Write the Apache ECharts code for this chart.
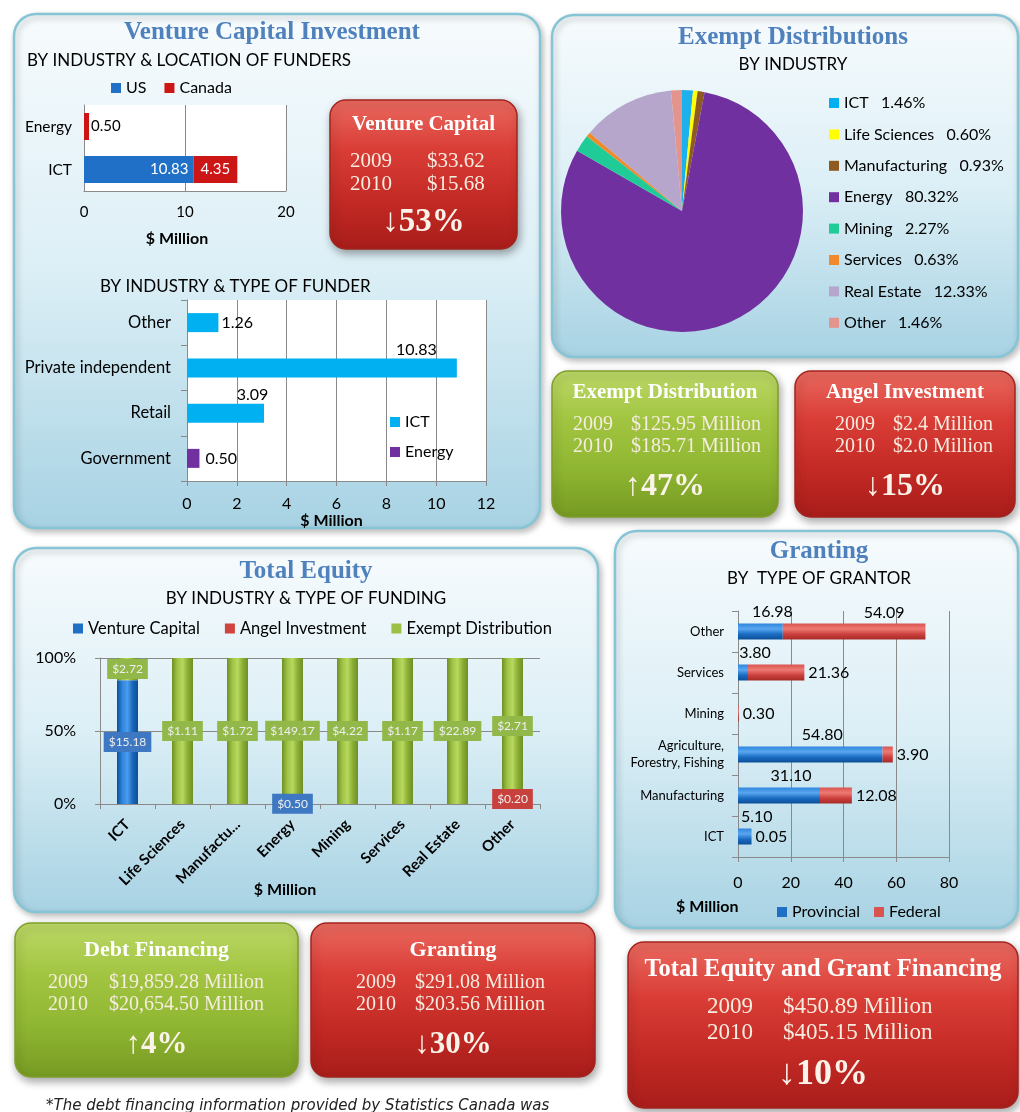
<!DOCTYPE html>
<html>
<head>
<meta charset="utf-8">
<title>Equity and Grant Financing</title>
<script src="https://cdn.jsdelivr.net/npm/echarts@6/dist/echarts.min.js"></script>
<style>
  html, body { margin: 0; padding: 0; background: #fff; }
  #main { width: 1020px; height: 1112px; }
</style>
</head>
<body>
<div id="main"></div>
<script>
var SANS = 'Lato, "Noto Sans", sans-serif';
var SERIF = '"Liberation Serif", "DejaVu Serif", serif';

// Venture capital by industry & location of funders ($ Million)
var vcLocCategories = ['ICT', 'Energy'];
var vcUS = [10.83, 0];
var vcCanada = [4.35, 0.50];

// Venture capital by industry & type of funder ($ Million)
var funderCategories = ['Government', 'Retail', 'Private independent', 'Other'];
var funderICT = [0, 3.09, 10.83, 1.26];
var funderEnergy = [0.50, 0, 0, 0];

// Exempt distributions by industry (%)
var pieNames = ['ICT', 'Life Sciences', 'Manufacturing', 'Energy', 'Mining', 'Services', 'Real Estate', 'Other'];
var pieShares = [1.46, 0.60, 0.93, 80.32, 2.27, 0.63, 12.33, 1.46];
var pieColors = ['#1cb0ec', '#ffff00', '#8f5a22', '#7030a0', '#1fcc98', '#f08a2c', '#b6a6cc', '#e3948c'];

// Total equity by industry & type of funding ($ Million)
var equityCategories = ['ICT', 'Life Sciences', 'Manufacturing', 'Energy', 'Mining', 'Services', 'Real Estate', 'Other'];
var equityVC = [15.18, 0, 0, 0.50, 0, 0, 0, 0];
var equityAngel = [0, 0, 0, 0, 0, 0, 0, 0.20];
var equityExempt = [2.72, 1.11, 1.72, 149.17, 4.22, 1.17, 22.89, 2.71];

// Granting by type of grantor ($ Million)
var grantCategories = ['ICT', 'Manufacturing', 'Agriculture,\nForestry, Fishing', 'Mining', 'Services', 'Other'];
var grantProvincial = [5.10, 31.10, 54.80, 0, 3.80, 16.98];
var grantFederal = [0.05, 12.08, 3.90, 0.30, 21.36, 54.09];

var myChart = echarts.init(document.getElementById('main'));

function grad(dir, stops) {
    // dir 'h' = left->right, 'v' = top->bottom
    var s = stops.map(function (c, i) { return { offset: i / (stops.length - 1), color: c }; });
    return dir === 'h' ? new echarts.graphic.LinearGradient(0, 0, 1, 0, s)
                       : new echarts.graphic.LinearGradient(0, 0, 0, 1, s);
}

function panel(x, y, w, h) {
    return {
        type: 'rect', z: -10, silent: true,
        shape: { x: x, y: y, width: w, height: h, r: 22 },
        style: {
            fill: grad('v', ['#f7fbfd', '#dceff6', '#a7d2e3']),
            stroke: '#86c5d5', lineWidth: 2.5,
            shadowBlur: 6, shadowColor: 'rgba(0,0,0,0.25)', shadowOffsetX: 2, shadowOffsetY: 3
        }
    };
}

function txt(t, x, y, font, color, align) {
    return {
        type: 'text', x: x, y: y, silent: true, z: 5,
        style: { text: t, font: font, fill: color || '#000', align: align || 'center', verticalAlign: 'middle' }
    };
}

// coloured summary box
function box(b) {
    var red = b.kind === 'red';
    var els = [{
        type: 'rect', z: 1, silent: true,
        shape: { x: b.x, y: b.y, width: b.w, height: b.h, r: 16 },
        style: {
            fill: red ? grad('v', ['#ea6a60', '#d93d36', '#c42a25', '#a81d1a'])
                      : grad('v', ['#bcd867', '#a2c541', '#8fb632', '#769a22']),
            stroke: red ? '#a3241f' : '#7f9f2a', lineWidth: 1.5,
            shadowBlur: 8, shadowColor: 'rgba(0,0,0,0.35)', shadowOffsetX: 2, shadowOffsetY: 4
        }
    }];
    var cx = b.x + b.w / 2;
    els.push(txt(b.title, cx, b.ty, 'bold ' + b.ts + 'px ' + SERIF, '#ffffff'));
    b.years.forEach(function (yr, i) {
        els.push(txt(yr, b.yx, b.ly[i], b.ls + 'px ' + SERIF, '#f6ece0', 'left'));
        els.push(txt(b.amounts[i], b.ax, b.ly[i], b.ls + 'px ' + SERIF, '#f6ece0', 'left'));
    });
    els.push(txt(b.change, cx, b.cy, 'bold ' + b.cs + 'px ' + SERIF, '#fbf3ea'));
    return els;
}

var graphics = [
    panel(14, 14, 526, 514),
    panel(552, 15, 466, 342),
    panel(14, 548, 584, 364),
    panel(615, 531, 403, 397),

    txt('Venture Capital Investment', 272, 33, 'bold 25px ' + SERIF, '#4f81bd'),
    txt('BY INDUSTRY & LOCATION OF FUNDERS', 27, 61, '17px ' + SANS, '#000', 'left'),
    txt('BY INDUSTRY & TYPE OF FUNDER', 100, 287, '17px ' + SANS, '#000', 'left'),
    txt('Exempt Distributions', 793, 38, 'bold 25px ' + SERIF, '#4f81bd'),
    txt('BY INDUSTRY', 793, 65, '17px ' + SANS, '#000'),
    txt('Total Equity', 306, 572, 'bold 25px ' + SERIF, '#4f81bd'),
    txt('BY INDUSTRY & TYPE OF FUNDING', 306, 599, '17px ' + SANS, '#000'),
    txt('Granting', 819, 552, 'bold 25px ' + SERIF, '#4f81bd'),
    txt('BY  TYPE OF GRANTOR', 819, 579, '17px ' + SANS, '#000'),
    txt('$ Million', 285, 890, 'bold 16px ' + SANS, '#000'),
    txt('$ Million', 676, 907, 'bold 16px ' + SANS, '#000', 'left'),
    txt('*The debt financing information provided by Statistics Canada was', 46, 1106, 'italic 15px "DejaVu Sans", sans-serif', '#222', 'left')
];

graphics = graphics
    .concat(box({ kind: 'red', x: 330, y: 100, w: 187, h: 149, title: 'Venture Capital', ty: 125, ts: 21,
        years: ['2009', '2010'], amounts: ['$33.62', '$15.68'], yx: 350, ax: 427, ly: [161, 184], ls: 21,
        change: '\u219353%', cy: 222, cs: 33 }))
    .concat(box({ kind: 'green', x: 552, y: 371, w: 226, h: 146, title: 'Exempt Distribution', ty: 393, ts: 21,
        years: ['2009', '2010'], amounts: ['$125.95 Million', '$185.71 Million'], yx: 573, ax: 631, ly: [425, 447], ls: 20,
        change: '\u219147%', cy: 487, cs: 32 }))
    .concat(box({ kind: 'red', x: 795, y: 371, w: 220, h: 146, title: 'Angel Investment', ty: 393, ts: 21,
        years: ['2009', '2010'], amounts: ['$2.4 Million', '$2.0 Million'], yx: 835, ax: 893, ly: [425, 447], ls: 20,
        change: '\u219315%', cy: 487, cs: 32 }))
    .concat(box({ kind: 'green', x: 15, y: 923, w: 283, h: 154, title: 'Debt Financing', ty: 950, ts: 22,
        years: ['2009', '2010'], amounts: ['$19,859.28 Million', '$20,654.50 Million'], yx: 48, ax: 109, ly: [983, 1005], ls: 20,
        change: '\u21914%', cy: 1045, cs: 31 }))
    .concat(box({ kind: 'red', x: 311, y: 923, w: 284, h: 154, title: 'Granting', ty: 950, ts: 22,
        years: ['2009', '2010'], amounts: ['$291.08 Million', '$203.56 Million'], yx: 356, ax: 415, ly: [983, 1005], ls: 20,
        change: '\u219330%', cy: 1045, cs: 31 }))
    .concat(box({ kind: 'red', x: 628, y: 942, w: 390, h: 166, title: 'Total Equity and Grant Financing', ty: 970, ts: 24.5,
        years: ['2009', '2010'], amounts: ['$450.89 Million', '$405.15 Million'], yx: 707, ax: 783, ly: [1007, 1033], ls: 23,
        change: '\u219310%', cy: 1075, cs: 36 }));

var equityTotals = equityCategories.map(function (c, i) {
    return equityVC[i] + equityAngel[i] + equityExempt[i];
});

function shareData(arr) {
    return arr.map(function (v, i) { return v ? v / equityTotals[i] : '-'; });
}

function equityLabel(arr, bg) {
    return {
        show: true, position: 'inside', fontFamily: SANS, fontSize: 12, color: '#eeeeee',
        backgroundColor: bg, padding: [4, 5],
        formatter: function (p) { return '$' + arr[p.dataIndex].toFixed(2); }
    };
}

var axisCol = '#8a8a8a';
var baseLabel = { fontFamily: SANS, color: '#000' };
var legendText = { fontSize: 16, color: '#000', fontFamily: SANS };

var option = {
    animation: false,
    textStyle: { fontFamily: SANS },
    graphic: { elements: graphics },
    legend: [
        {
            data: ['US', 'Canada'], left: 106, top: 75, itemWidth: 10, itemHeight: 10, itemGap: 18,
            icon: 'rect', textStyle: legendText
        },
        {
            data: ['ICT', 'Energy'], orient: 'vertical', left: 385, top: 409, itemWidth: 10, itemHeight: 10, itemGap: 14,
            icon: 'rect', textStyle: legendText
        },
        {
            data: pieNames, orient: 'vertical', left: 824, top: 90, itemWidth: 10, itemHeight: 10, itemGap: 15.4,
            icon: 'rect', textStyle: legendText,
            formatter: function (name) {
                return name + '   ' + pieShares[pieNames.indexOf(name)].toFixed(2) + '%';
            }
        },
        {
            data: [
                { name: 'Venture Capital', itemStyle: { color: '#1f6fc5' } },
                { name: 'Angel Investment', itemStyle: { color: '#d0433e' } },
                { name: 'Exempt Distribution', itemStyle: { color: '#9bc044' } }
            ],
            left: 68, top: 615, itemWidth: 10, itemHeight: 10, itemGap: 25,
            icon: 'rect', textStyle: { fontSize: 16.5, color: '#000', fontFamily: SANS }
        },
        {
            data: [
                { name: 'Provincial', itemStyle: { color: '#1f6fc5' } },
                { name: 'Federal', itemStyle: { color: '#d9534f' } }
            ],
            left: 772, top: 899, itemWidth: 10, itemHeight: 10, itemGap: 14,
            icon: 'rect', textStyle: legendText
        }
    ],
    grid: [
        { left: 84, top: 105, width: 202, height: 86, show: true, backgroundColor: '#fff', borderWidth: 0 },
        { left: 187, top: 300, width: 299, height: 181, show: true, backgroundColor: '#fff', borderWidth: 0 },
        { left: 100, top: 658, width: 440, height: 146 },
        { left: 738, top: 611, width: 211, height: 246 }
    ],
    xAxis: [
        {
            gridIndex: 0, type: 'value', min: 0, max: 20, interval: 10,
            axisLine: { show: true, lineStyle: { color: axisCol } }, axisTick: { show: false },
            splitLine: { show: true, lineStyle: { color: axisCol } },
            axisLabel: Object.assign({ fontSize: 15, margin: 14 }, baseLabel),
            name: '$ Million', nameLocation: 'middle', nameGap: 40,
            nameTextStyle: { fontWeight: 'bold', fontSize: 16, color: '#000', padding: [0, 16, 0, 0] }
        },
        {
            gridIndex: 1, type: 'value', min: 0, max: 12, interval: 2,
            axisLine: { show: true, lineStyle: { color: axisCol } }, axisTick: { show: true, lineStyle: { color: axisCol } },
            splitLine: { show: true, lineStyle: { color: axisCol } },
            axisLabel: Object.assign({ fontSize: 16, margin: 15 }, baseLabel),
            name: '$ Million', nameLocation: 'middle', nameGap: 32,
            nameTextStyle: { fontWeight: 'bold', fontSize: 16, color: '#000', padding: [0, 10, 0, 0] }
        },
        {
            gridIndex: 2, type: 'category', data: equityCategories,
            axisLine: { show: true, lineStyle: { color: axisCol } },
            axisTick: { show: true, lineStyle: { color: axisCol } },
            axisLabel: Object.assign({
                fontSize: 15, fontWeight: 'bold', rotate: 45, margin: 18, interval: 0,
                formatter: function (v) { return v === 'Manufacturing' ? 'Manufactu...' : v; }
            }, baseLabel)
        },
        {
            gridIndex: 3, type: 'value', min: 0, max: 80, interval: 20,
            axisLine: { show: true, lineStyle: { color: axisCol } }, axisTick: { show: true, lineStyle: { color: axisCol } },
            splitLine: { show: true, lineStyle: { color: axisCol } },
            axisLabel: Object.assign({ fontSize: 16, margin: 18 }, baseLabel)
        }
    ],
    yAxis: [
        {
            gridIndex: 0, type: 'category', data: vcLocCategories,
            axisLine: { show: true, lineStyle: { color: axisCol } }, axisTick: { show: false },
            axisLabel: Object.assign({ fontSize: 15.5, margin: 12 }, baseLabel)
        },
        {
            gridIndex: 1, type: 'category', data: funderCategories,
            axisLine: { show: true, lineStyle: { color: axisCol } },
            axisTick: { show: true, length: 6, lineStyle: { color: axisCol } },
            axisLabel: Object.assign({ fontSize: 16.5, margin: 16 }, baseLabel)
        },
        {
            gridIndex: 2, type: 'value', min: 0, max: 1, interval: 0.5,
            axisLine: { show: true, lineStyle: { color: axisCol } }, axisTick: { show: true, lineStyle: { color: axisCol } },
            splitLine: { show: true, lineStyle: { color: axisCol } },
            axisLabel: Object.assign({ fontSize: 16, margin: 24, formatter: function (v) { return Math.round(v * 100) + '%'; } }, baseLabel)
        },
        {
            gridIndex: 3, type: 'category', data: grantCategories,
            axisLine: { show: true, lineStyle: { color: axisCol } },
            axisTick: { show: true, length: 6, lineStyle: { color: axisCol } },
            axisLabel: Object.assign({ fontSize: 13, lineHeight: 17, margin: 14 }, baseLabel)
        }
    ],
    series: [
        // chart 1: location of funders
        {
            name: 'US', type: 'bar', xAxisIndex: 0, yAxisIndex: 0, stack: 'loc', barWidth: 27,
            itemStyle: { color: '#1f70c6' },
            label: { show: true, position: 'insideRight', color: '#fff', fontSize: 15, fontFamily: SANS,
                formatter: function (p) { return p.value.toFixed(2); } },
            data: vcUS.map(function (v) { return v || '-'; })
        },
        {
            name: 'Canada', type: 'bar', xAxisIndex: 0, yAxisIndex: 0, stack: 'loc', barWidth: 27,
            itemStyle: { color: '#cc1515' },
            label: { show: true, fontSize: 15, fontFamily: SANS, formatter: function (p) { return p.value.toFixed(2); } },
            data: vcCanada.map(function (v, i) {
                return vcUS[i] ? { value: v, label: { position: 'inside', color: '#fff' } }
                               : { value: v, label: { position: 'right', color: '#000', distance: 2 } };
            })
        },
        // chart 2: type of funder
        {
            name: 'ICT', type: 'bar', xAxisIndex: 1, yAxisIndex: 1, stack: 'fund', barWidth: 19,
            itemStyle: { color: '#00b0f0' },
            label: { show: true, fontSize: 16, color: '#000', fontFamily: SANS,
                formatter: function (p) { return p.value.toFixed(2); } },
            data: funderICT.map(function (v) {
                if (!v) return '-';
                if (v < 2) return { value: v, label: { position: 'right', distance: 3 } };
                return { value: v, label: { position: ['85%', -1], align: 'center', verticalAlign: 'bottom' } };
            })
        },
        {
            name: 'Energy', type: 'bar', xAxisIndex: 1, yAxisIndex: 1, stack: 'fund', barWidth: 19,
            itemStyle: { color: '#7030a0' },
            label: { show: true, position: 'right', distance: 6, fontSize: 16, color: '#000', fontFamily: SANS,
                formatter: function (p) { return p.value.toFixed(2); } },
            data: funderEnergy.map(function (v) { return v || '-'; })
        },
        // exempt distributions pie
        {
            name: 'Exempt Distributions', type: 'pie', center: [682, 211], radius: 121,
            startAngle: 90, clockwise: true, label: { show: false }, labelLine: { show: false },
            emphasis: { disabled: true },
            data: pieNames.map(function (n, i) {
                return { name: n, value: pieShares[i], itemStyle: { color: pieColors[i] } };
            })
        },
        // total equity (share of each industry total)
        {
            name: 'Venture Capital', type: 'bar', xAxisIndex: 2, yAxisIndex: 2, stack: 'eq', barWidth: 21,
            itemStyle: { color: grad('h', ['#0a4f9a', '#2f86dc', '#4a9cef', '#1a66b8', '#0a4f9a']) },
            label: equityLabel(equityVC, '#3f78c2'),
            data: shareData(equityVC)
        },
        {
            name: 'Angel Investment', type: 'bar', xAxisIndex: 2, yAxisIndex: 2, stack: 'eq', barWidth: 21,
            itemStyle: { color: grad('h', ['#9e2a27', '#d9534f', '#e8726d', '#b83b38', '#9e2a27']) },
            label: equityLabel(equityAngel, '#c9413c'),
            data: shareData(equityAngel)
        },
        {
            name: 'Exempt Distribution', type: 'bar', xAxisIndex: 2, yAxisIndex: 2, stack: 'eq', barWidth: 21,
            itemStyle: { color: grad('h', ['#6f8f25', '#9ec344', '#b8d860', '#8aae34', '#6f8f25']) },
            label: equityLabel(equityExempt, '#92b84a'),
            data: shareData(equityExempt)
        },
        // granting
        {
            name: 'Provincial', type: 'bar', xAxisIndex: 3, yAxisIndex: 3, stack: 'grant', barWidth: 16,
            itemStyle: { color: grad('v', ['#2e86dc', '#5aa6f0', '#1a6cc2', '#0d4f98']) },
            label: { show: true, position: 'top', offset: [12, 1], fontSize: 16, color: '#000', fontFamily: SANS,
                formatter: function (p) { return p.value.toFixed(2); } },
            data: grantProvincial.map(function (v) { return v || '-'; })
        },
        {
            name: 'Federal', type: 'bar', xAxisIndex: 3, yAxisIndex: 3, stack: 'grant', barWidth: 16,
            itemStyle: { color: grad('v', ['#d9534f', '#ee7a74', '#cc403c', '#a52b28']) },
            label: { show: true, position: 'right', distance: 4, fontSize: 16, color: '#000', fontFamily: SANS,
                formatter: function (p) { return p.value.toFixed(2); } },
            data: grantFederal.map(function (v, i) {
                if (grantCategories[i] === 'Other') return { value: v, label: { position: 'top', offset: [30, 1] } };
                return v;
            })
        }
    ]
};

myChart.setOption(option);
</script>
</body>
</html>
